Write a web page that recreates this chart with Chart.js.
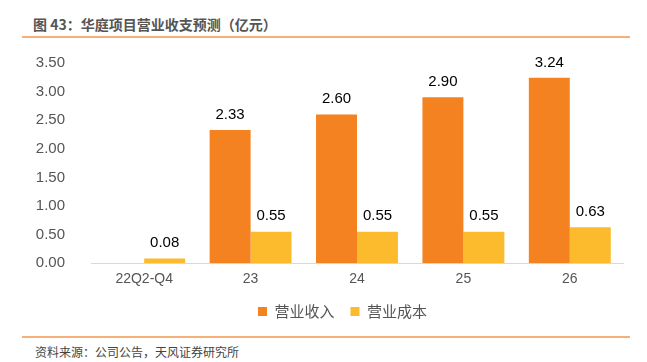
<!DOCTYPE html>
<html>
<head>
<meta charset="utf-8">
<script src="https://cdn.jsdelivr.net/npm/chart.js@4.4.0/dist/chart.umd.min.js"></script>
<style>
  body { margin: 0; width: 647px; height: 362px; background: #fff; position: relative; overflow: hidden; font-family: "Noto Sans CJK SC", sans-serif; }
  #title { position: absolute; left: 33px; top: 14px; font-size: 14px; font-weight: bold; color: #555; }
  .rule { position: absolute; left: 22px; width: 608px; height: 2px; background: #f5b07a; }
  #foot { position: absolute; left: 35px; top: 343px; font-size: 12px; color: #444; }
  #wrap { position: absolute; left: 0; top: 36px; width: 647px; height: 297px; }
</style>
</head>
<body>
<div id="title">图 43：华庭项目营业收支预测（亿元）</div>
<div class="rule" style="top:36px"></div>
<div id="wrap"><canvas id="myChart"></canvas></div>
<div class="rule" style="top:336px"></div>
<div id="foot">资料来源：公司公告，天风证券研究所</div>
<script>
// categories and series
const categories = ["22Q2-Q4", "23", "24", "25", "26"];
const revenue = [null, 2.33, 2.60, 2.90, 3.24];
const cost = [0.08, 0.55, 0.55, 0.55, 0.63];
const yTicks = [0, 0.5, 1, 1.5, 2, 2.5, 3, 3.5];

// labels above bars
const valueLabels = {
  id: "valueLabels",
  afterDatasetsDraw(chart) {
    const ctx = chart.ctx;
    ctx.save();
    ctx.font = "15px 'Liberation Sans', Arial, sans-serif";
    ctx.fillStyle = "#000";
    ctx.textAlign = "center";
    ctx.textBaseline = "bottom";
    chart.data.datasets.forEach((ds, i) => {
      chart.getDatasetMeta(i).data.forEach((bar, j) => {
        if (ds.data[j] == null) return;
        ctx.fillText(ds.data[j].toFixed(2), bar.x, bar.y - 8);
      });
    });
    ctx.restore();
  }
};

// legend sits a bit right of the canvas centre in the original
const legendShift = {
  id: "legendShift",
  afterLayout(chart) {
    chart.legend.left += 31;
    chart.legend.right += 31;
  }
};

const ctx = document.getElementById("myChart").getContext("2d");
const chart = new Chart(ctx, {
  type: "bar",
  data: {
    labels: categories,
    datasets: [
      { label: "营业收入", data: revenue, backgroundColor: "rgb(245,130,32)", categoryPercentage: 0.77, barPercentage: 1 },
      { label: "营业成本", data: cost, backgroundColor: "rgb(251,187,44)", categoryPercentage: 0.77, barPercentage: 1 }
    ]
  },
  options: {
    responsive: true,
    maintainAspectRatio: false,
    animation: false,
    layout: { padding: { left: 0, right: 24, top: 17, bottom: 4 } },
    plugins: {
      legend: {
        position: "bottom",
        labels: {
          boxWidth: 9,
          boxHeight: 9,
          padding: 16,
          color: "#555",
          font: { size: 15, family: "'Noto Sans CJK SC', sans-serif" }
        }
      },
      tooltip: { enabled: false }
    },
    scales: {
      x: {
        grid: { display: false },
        border: { color: "#d9d9d9" },
        ticks: { color: "#555", padding: 0, font: { size: 14, family: "'Liberation Sans', Arial, sans-serif" } }
      },
      y: {
        min: 0,
        max: 3.5,
        grid: { display: false },
        border: { display: false },
        afterFit: s => { s.width = 91; },
        afterBuildTicks: s => { s.ticks = yTicks.map(v => ({ value: v })); },
        ticks: {
          color: "#555",
          padding: 18,
          font: { size: 15, family: "'Liberation Sans', Arial, sans-serif" },
          callback: v => v.toFixed(2)
        }
      }
    }
  },
  plugins: [valueLabels, legendShift]
});
</script>
</body>
</html>
